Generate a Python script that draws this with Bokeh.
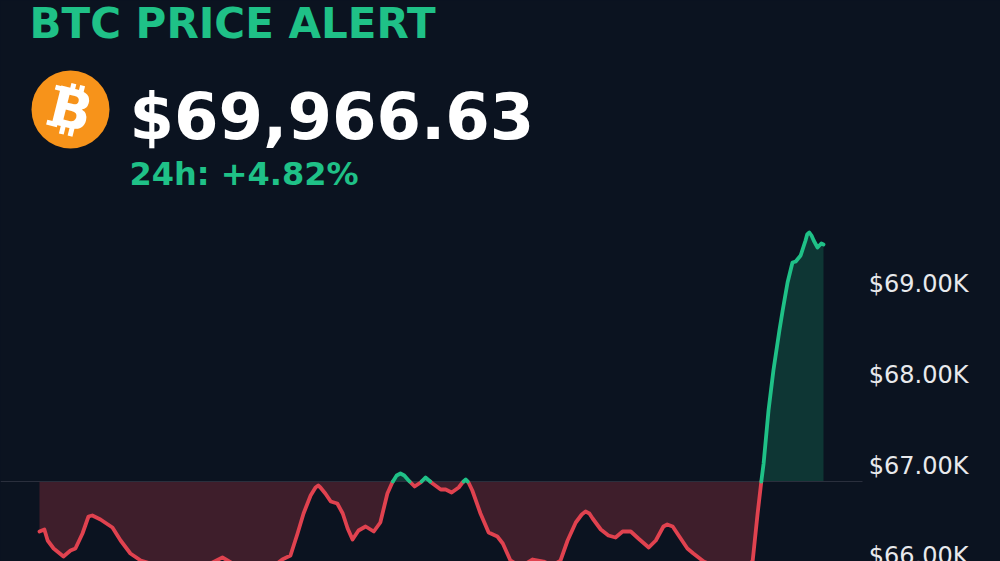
import numpy as np
from bokeh.core.properties import value
from bokeh.embed import file_html
from bokeh.models import Range1d
from bokeh.plotting import figure
from bokeh.resources import INLINE

# minutes since the window opened, and BTC price in USD
minutes = [0, 9, 15, 26, 44, 57, 66, 79, 90, 97, 112, 134, 149, 167, 186, 222, 277, 314, 336, 355,
           397, 434, 446, 461, 474, 485, 498, 507, 512, 516, 525, 535, 547, 557, 566, 575, 586, 599, 614,
           626, 639, 648, 656, 663, 670, 678, 689, 700, 709, 722, 737, 746, 757, 770, 777, 783, 788, 795, 810, 825, 841,
           851, 865, 884, 906, 926, 942, 957, 970, 985, 996, 1003, 1010, 1016, 1031, 1045, 1058, 1071, 1086,
           1100, 1119, 1132, 1146, 1153, 1163, 1174, 1190, 1201, 1220, 1251, 1297, 1310, 1319, 1326, 1330,
           1339, 1348, 1359, 1365, 1374, 1383, 1389, 1398, 1407, 1410, 1414, 1418, 1422, 1429, 1436, 1440]
prices = [66274, 66296, 66175, 66087, 65999, 66065, 66087, 66252, 66439, 66450, 66406, 66318, 66175,
          66032, 65955, 65889, 65845, 65922, 65988, 65922, 65867, 65911, 65966, 66010, 66252, 66472,
          66670, 66758, 66780, 66758, 66692, 66604, 66582, 66472, 66307, 66186, 66285, 66329, 66274, 66373,
          66692, 66813, 66890, 66912, 66890, 66835, 66769, 66813, 66868, 66802, 66736, 66736, 66703, 66758, 66813, 66846,
          66813, 66725, 66472, 66263, 66219, 66142, 65955, 65889, 65966, 65944, 65900, 65955, 66175, 66373,
          66461, 66494, 66472, 66417, 66296, 66230, 66208, 66274, 66274, 66197, 66098, 66175, 66329, 66351, 66329, 66230,
          66087, 66032, 65944, 65867, 65845, 65955, 66472, 66835, 67022,
          67605, 68045, 68485, 68705, 69013, 69233, 69244, 69310, 69475, 69541, 69563, 69530, 69475, 69398, 69442, 69431]
open_price = 66824
tick_values = [66000, 67000, 68000, 69000]
tick_labels = ["$66.00K", "$67.00K", "$68.00K", "$69.00K"]
title_text = "BTC PRICE ALERT"
price_text = "$69,966.63"
change_text = "24h: +4.82%"

BG, GREEN, RED = "#0b1320", "#1fc187", "#e0424f"
FW, FH = 1000, 561
X0, X1 = -71.6, 1765.1
Y0, Y1 = 65944, 72115


def sx(px):
    return X0 + np.asarray(px, float) / FW * (X1 - X0)


def sy(py):
    return Y1 - np.asarray(py, float) / FH * (Y1 - Y0)


p = figure(width=FW, height=FH, output_backend="svg", toolbar_location=None,
           x_range=Range1d(X0, X1), y_range=Range1d(Y0, Y1),
           background_fill_color=BG, border_fill_color=BG, outline_line_color=None,
           min_border=0, x_axis_location=None, y_axis_location=None)
p.grid.visible = False

# insert the crossings of the opening price so each side is coloured exactly
t = np.array(minutes, float)
v = np.array(prices, float)
xs, ys = [t[0]], [v[0]]
for i in range(1, len(t)):
    if (v[i - 1] - open_price) * (v[i] - open_price) < 0:
        xs.append(t[i - 1] + (open_price - v[i - 1]) / (v[i] - v[i - 1]) * (t[i] - t[i - 1]))
        ys.append(open_price)
    xs.append(t[i])
    ys.append(v[i])
xs, ys = np.array(xs), np.array(ys)
base = np.full_like(ys, open_price)

p.varea(xs, np.maximum(ys, base), base, fill_color=GREEN, fill_alpha=0.2)
p.varea(xs, np.minimum(ys, base), base, fill_color=RED, fill_alpha=0.24)
p.line([X0, float(sx(862))], [open_price, open_price], line_color="#2a2f3d", line_width=1)
p.line(xs, np.where(ys > open_price, np.nan, ys), line_color=RED, line_width=3.8,
       line_cap="round", line_join="round")
p.line(xs, np.where(ys < open_price, np.nan, ys), line_color=GREEN, line_width=3.8,
       line_cap="round", line_join="round")

FONT = value("DejaVu Sans")
p.text([float(sx(868.3))] * len(tick_values), tick_values, text=tick_labels, text_color="#e8e9ec",
       text_font=FONT, text_font_size="24px", text_baseline="middle")
p.text([float(sx(29))], [float(sy(23))], text=[title_text], text_color=GREEN, text_font=FONT,
       text_font_style="bold", text_font_size="42px", text_baseline="middle")
p.text([float(sx(129))], [float(sy(116))], text=[price_text], text_color="#ffffff", text_font=FONT,
       text_font_style="bold", text_font_size="64px", text_baseline="middle")
p.text([float(sx(129))], [float(sy(173))], text=[change_text], text_color=GREEN, text_font=FONT,
       text_font_style="bold", text_font_size="32px", text_baseline="middle")

# coin: disc, bold B, and the small pips and serifs of the bitcoin mark, tilted 14 degrees
cx, cy, tilt = 70, 109, np.radians(14)
p.scatter([float(sx(cx))], [float(sy(cy))], size=78, color="#f7931a", line_color=None)
p.text([float(sx(cx + 1))], [float(sy(cy))], text=["B"], text_color="#ffffff", text_font=FONT,
       text_font_style="bold", text_font_size="54px", text_align="center", text_baseline="middle",
       angle=-tilt)
marks = [(-3, -26, -3, -17), (6, -26, 6, -17), (-3, 17, -3, 26), (6, 17, 6, 26),
         (-20, -18, -9, -18), (-20, 18, -9, 18)]
mx0, my0, mx1, my1 = [], [], [], []
for a, b, c, d in marks:
    mx0.append(cx + a * np.cos(tilt) - b * np.sin(tilt))
    my0.append(cy + a * np.sin(tilt) + b * np.cos(tilt))
    mx1.append(cx + c * np.cos(tilt) - d * np.sin(tilt))
    my1.append(cy + c * np.sin(tilt) + d * np.cos(tilt))
p.segment(sx(mx0), sy(my0), sx(mx1), sy(my1), line_color="#ffffff", line_width=5)

html = file_html(p, INLINE)
html = html.replace("<head>", f"<head><style>html,body{{margin:0;background:{BG};overflow:hidden}}</style>", 1)
open("out.html", "w").write(html)
